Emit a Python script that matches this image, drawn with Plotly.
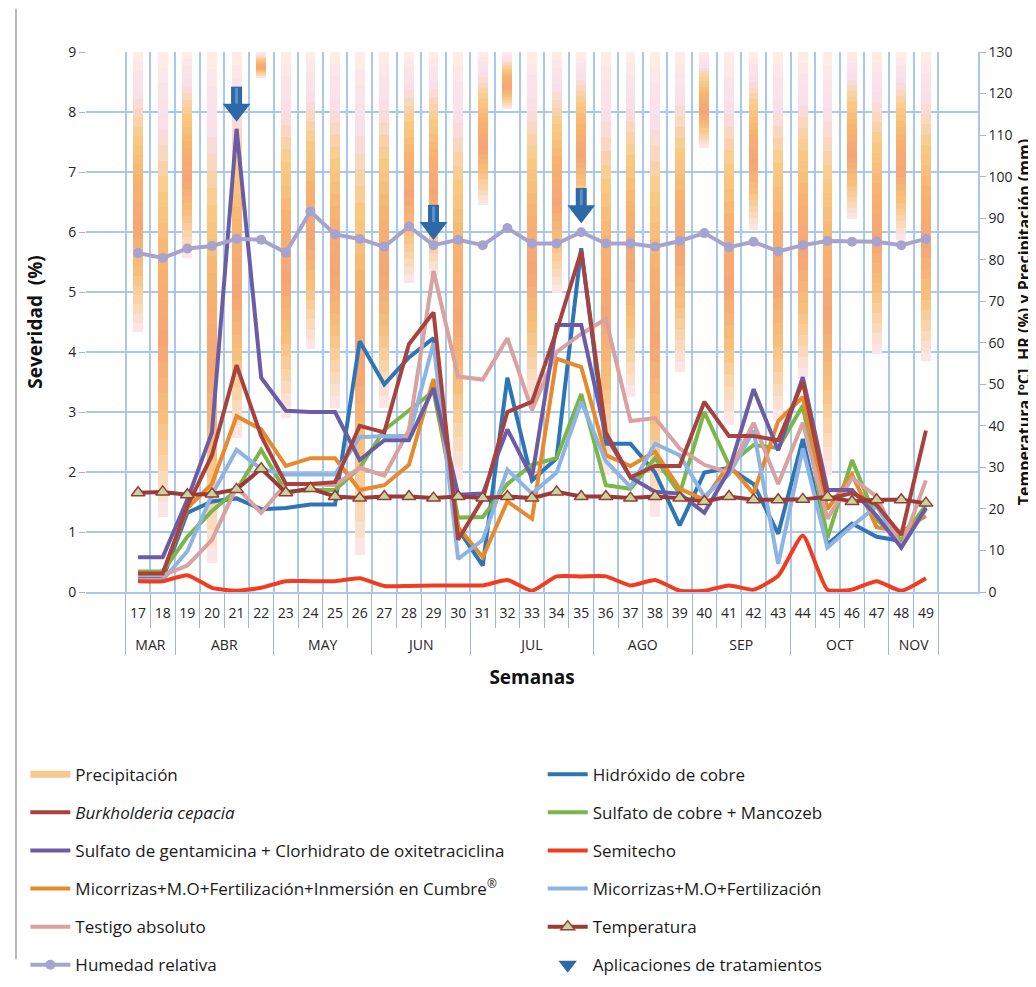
import plotly.graph_objects as go

# ---------------- data ----------------
weeks = ["17", "18", "19", "20", "21", "22", "23", "24", "25", "26", "27",
         "28", "29", "30", "31", "32", "33", "34", "35", "36", "37", "38",
         "39", "40", "41", "42", "43", "44", "45", "46", "47", "48", "49"]
months = ["MAR", "MAR", "ABR", "ABR", "ABR", "ABR", "MAY", "MAY", "MAY", "MAY",
          "JUN", "JUN", "JUN", "JUN", "JUL", "JUL", "JUL", "JUL", "JUL",
          "AGO", "AGO", "AGO", "AGO", "SEP", "SEP", "SEP", "SEP",
          "OCT", "OCT", "OCT", "OCT", "NOV", "NOV"]

precipitacion = [67.5, 112, 49.5, 123, 93, 6.2, 88, 71.5, 85.6, 121, 85.6,
                 55.5, 54, 103, 36.8, 13.7, 84.7, 58, 40, 101.8, 83, 112,
                 77, 23, 89.7, 42.8, 88.8, 78.7, 101.8, 40.2, 72.6, 45.3, 74.5]

hidroxido = [0.23, 0.23, 1.32, 1.51, 1.56, 1.38, 1.40, 1.46, 1.46, 4.18, 3.46,
             3.91, 4.23, 1.05, 0.44, 3.57, 1.86, 2.23, 5.73, 2.47, 2.47, 1.99,
             1.11, 1.99, 2.07, 1.80, 0.97, 2.55, 0.79, 1.14, 0.92, 0.85, 1.40]
burkholderia = [0.31, 0.31, 1.43, 2.28, 3.78, 2.60, 1.80, 1.80, 1.83, 2.77, 2.66,
                4.13, 4.66, 0.87, 1.55, 3.00, 3.17, 4.35, 5.68, 2.66, 1.91, 2.10,
                2.10, 3.17, 2.60, 2.60, 2.53, 3.50, 1.55, 1.65, 1.45, 0.95, 2.69]
sulfato_mancozeb = [0.34, 0.34, 0.92, 1.35, 1.70, 2.37, 1.67, 1.70, 1.70, 2.07, 2.70,
                    3.03, 3.35, 1.24, 1.25, 1.80, 2.12, 2.23, 3.30, 1.78, 1.72, 2.23,
                    1.64, 3.00, 2.12, 2.45, 2.40, 3.11, 0.90, 2.20, 1.20, 0.87, 1.45]
gentamicina = [0.58, 0.58, 1.54, 2.66, 7.72, 3.57, 3.02, 3.00, 3.00, 2.20, 2.53,
               2.53, 3.40, 1.62, 1.64, 2.71, 1.91, 4.45, 4.45, 2.60, 1.91, 1.67,
               1.64, 1.32, 2.02, 3.38, 2.36, 3.58, 1.70, 1.70, 1.27, 0.74, 1.40]
semitecho = [0.18, 0.18, 0.28, 0.07, 0.02, 0.07, 0.18, 0.18, 0.18, 0.23, 0.10,
             0.10, 0.11, 0.11, 0.11, 0.20, 0.02, 0.26, 0.26, 0.26, 0.11, 0.20,
             0.02, 0.02, 0.11, 0.04, 0.27, 0.94, 0.04, 0.04, 0.18, 0.02, 0.23]
cumbre = [0.31, 0.31, 1.40, 1.80, 2.93, 2.71, 2.10, 2.23, 2.23, 1.70, 1.78,
          2.12, 3.55, 1.08, 0.58, 1.51, 1.22, 3.89, 3.75, 2.28, 2.10, 2.34,
          1.72, 1.54, 2.12, 1.64, 2.85, 3.25, 1.38, 1.96, 1.08, 1.00, 1.27]
mo_fert = [0.20, 0.20, 0.68, 1.62, 2.37, 2.05, 1.96, 1.96, 1.96, 2.58, 2.60,
           2.60, 4.15, 0.55, 0.87, 2.04, 1.64, 1.99, 3.17, 2.18, 1.75, 2.47,
           2.28, 1.59, 1.96, 2.69, 0.47, 2.39, 0.74, 1.10, 1.43, 0.74, 1.38]
testigo = [0.28, 0.28, 0.44, 0.87, 1.75, 1.32, 1.80, 1.80, 1.78, 2.07, 1.94,
           2.70, 5.35, 3.59, 3.54, 4.23, 3.03, 4.00, 4.30, 4.55, 2.85, 2.90,
           2.39, 2.12, 1.99, 2.82, 1.80, 2.82, 1.22, 1.90, 1.59, 0.74, 1.86]
temperatura = [23.9, 24.1, 23.4, 23.6, 24.7, 29.7, 23.9, 24.9, 23.0, 22.6, 23.0,
               23.0, 22.6, 23.0, 22.6, 23.0, 22.6, 24.1, 23.0, 23.0, 22.6, 23.0,
               22.6, 21.8, 23.0, 22.2, 22.2, 22.3, 22.9, 21.8, 22.2, 22.2, 21.4]
humedad = [81.6, 80.4, 82.7, 83.3, 85.0, 84.8, 81.7, 91.6, 86.1, 85.0, 83.1,
           88.0, 83.5, 84.8, 83.5, 87.6, 83.9, 83.9, 86.6, 83.9, 83.9, 83.1,
           84.5, 86.4, 83.0, 84.3, 82.0, 83.5, 84.5, 84.3, 84.3, 83.5, 85.0]

aplic_weeks = ["21", "29", "35"]
aplic_months = ["ABR", "JUN", "JUL"]
aplic_sev = [7.86, 5.89, 6.17]   # arrow tip, in severity units

# ---------------- style ----------------
FONT = "Open Sans"
GRID = "#A9C8EB"
AXC = "#9DB8D3"
SEV_MAX, RIGHT_MAX = 9, 130
to_right = RIGHT_MAX / SEV_MAX

# week label plus an empty second line, so the month row sits lower
week_lbl = [w + "<br>\u00a0" for w in weeks]
aplic_lbl = [w + "<br>\u00a0" for w in aplic_weeks]

x_all = [months, week_lbl]
fig = go.Figure()

# gradient for the hanging precipitation bars (fraction from top, colour)
grad_pos = [0.00, 0.07, 0.16, 0.30, 0.46, 0.62, 0.78, 0.90, 1.00]
grad_rgb = [(254, 240, 226), (252, 228, 234), (251, 222, 232), (249, 204, 134),
            (247, 178, 112), (244, 166, 117), (247, 190, 122), (250, 215, 176),
            (252, 232, 238)]
N_SEG = 30


def grad_color(t):
    for k in range(len(grad_pos) - 1):
        if grad_pos[k] <= t <= grad_pos[k + 1]:
            u = (t - grad_pos[k]) / (grad_pos[k + 1] - grad_pos[k])
            c = [round(a + (b - a) * u) for a, b in zip(grad_rgb[k], grad_rgb[k + 1])]
            return "rgb({},{},{})".format(*c)
    return "rgb({},{},{})".format(*grad_rgb[-1])


for i in range(N_SEG):
    frac = 1.0 / N_SEG
    fig.add_trace(go.Bar(
        x=x_all, y=[p * frac for p in precipitacion], yaxis="y",
        marker=dict(color=grad_color((i + 0.5) / N_SEG), line=dict(width=0)),
        width=0.4, showlegend=False, hoverinfo="skip"))

# legend proxy for precipitation
fig.add_trace(go.Scatter(x=[[None], [None]], y=[None], mode="lines", yaxis="y2",
                         name="Precipitación", line=dict(color="#F9C98F", width=7),
                         legend="legend", legendgroup="g1", legendrank=1))

series = [
    ("Hidróxido de cobre", hidroxido, "#2E75B6", "legend2", 1, "linear"),
    ("Sulfato de cobre + Mancozeb", sulfato_mancozeb, "#7AB648", "legend2", 2, "linear"),
    ("Micorrizas+M.O+Fertilización+Inmersión en Cumbre<sup>®</sup>", cumbre, "#E8892C", "legend", 4, "linear"),
    ("Micorrizas+M.O+Fertilización", mo_fert, "#8EB4E3", "legend2", 4, "linear"),
    ("Testigo absoluto", testigo, "#D9A19F", "legend", 5, "linear"),
    ("Sulfato de gentamicina + Clorhidrato de oxitetraciclina", gentamicina, "#6B5CA5", "legend", 3, "linear"),
    ("<i>Burkholderia cepacia</i>", burkholderia, "#A8423D", "legend", 2, "linear"),
    ("Semitecho", semitecho, "#F23C1F", "legend2", 3, "spline"),
]
for name, vals, col, leg, rank, shape in series:
    fig.add_trace(go.Scatter(
        x=x_all, y=vals, yaxis="y2", mode="lines", name=name,
        line=dict(color=col, width=4, shape=shape, smoothing=0.5),
        legend=leg, legendgroup=name, legendrank=rank, hoverinfo="skip"))

fig.add_trace(go.Scatter(
    x=x_all, y=temperatura, yaxis="y3", mode="lines+markers", name="Temperatura",
    line=dict(color="#9A3B38", width=4),
    marker=dict(symbol="triangle-up", size=12, color="#C3D69B",
                line=dict(color="#9A3B38", width=1.5)),
    legend="legend2", legendgroup="temp", legendrank=5, hoverinfo="skip"))
fig.add_trace(go.Scatter(
    x=x_all, y=humedad, yaxis="y3", mode="lines+markers", name="Humedad relativa",
    line=dict(color="#A7A3CF", width=4),
    marker=dict(symbol="circle", size=10, color="#A7A3CF"),
    legend="legend", legendgroup="hr", legendrank=6, hoverinfo="skip"))

# treatment application arrows (stem + head), converted to right-axis units
ax_x = [aplic_months, aplic_lbl]
stem_y = [(v + 0.376) * to_right for v in aplic_sev]
head_y = [(v + 0.176) * to_right for v in aplic_sev]
fig.add_trace(go.Scatter(
    x=ax_x, y=stem_y, yaxis="y3", mode="markers", showlegend=False,
    marker=dict(symbol="line-ns", size=16, line=dict(color="#2C69A6", width=11)),
    legendgroup="arr", hoverinfo="skip"))
fig.add_trace(go.Scatter(
    x=ax_x, y=stem_y, yaxis="y3", mode="markers", showlegend=False,
    marker=dict(symbol="line-ns", size=14, line=dict(color="#5E8FC6", width=3)),
    legendgroup="arr", hoverinfo="skip"))
fig.add_trace(go.Scatter(
    x=ax_x, y=head_y, yaxis="y3", mode="markers", name="Aplicaciones de tratamientos",
    marker=dict(symbol="triangle-down", size=24, color="#2C69A6", line=dict(width=0)),
    legend="legend2", legendgroup="arr", legendrank=6, hoverinfo="skip"))

legend_common = dict(
    xanchor="left", yanchor="top", orientation="v", traceorder="grouped",
    tracegroupgap=13, bgcolor="rgba(0,0,0,0)",
    font=dict(family=FONT, size=17, color="#1a1a1a"), itemwidth=40)

fig.update_layout(
    width=1036, height=987,
    margin=dict(l=78, r=66, t=44, b=381),
    paper_bgcolor="white", plot_bgcolor="white",
    barmode="stack",
    font=dict(family=FONT, size=14, color="#262626"),
    legend=dict(x=-0.068, y=-0.305, **legend_common),
    legend2=dict(x=0.512, y=-0.305, **legend_common),
    xaxis=dict(
        type="multicategory", showgrid=True, gridcolor=GRID, gridwidth=1.5,
        ticks="outside", ticklen=34, tickcolor=AXC, tickwidth=1,
        showdividers=True, dividercolor=AXC, dividerwidth=1,
        tickangle=0, ticklabelstandoff=7,
        showline=True, linecolor=GRID, linewidth=1.5,
        tickfont=dict(family=FONT, size=14, color="#262626"),
        title=dict(text="<b>Semanas</b>", font=dict(family=FONT, size=19, color="#111"),
                   standoff=18),
        automargin=False),
    yaxis=dict(range=[RIGHT_MAX, 0], autorange=False, visible=False, showgrid=False,
               zeroline=False, fixedrange=True),
    yaxis2=dict(overlaying="y", side="left", anchor="x", range=[0, SEV_MAX],
                autorange=False, dtick=1, tick0=0, showgrid=True, gridcolor=GRID,
                gridwidth=1.5, zeroline=False, ticks="outside", ticklen=6,
                tickcolor=AXC, showline=False,
                tickfont=dict(family=FONT, size=14, color="#262626"),
                title=dict(text="<b>Severidad  (%)</b>",
                           font=dict(family=FONT, size=19, color="#111"), standoff=20),
                automargin=False),
    yaxis3=dict(overlaying="y", side="right", anchor="x", range=[0, RIGHT_MAX],
                autorange=False, dtick=10, tick0=0, showgrid=False, zeroline=False,
                ticks="outside", ticklen=6, tickcolor=AXC, showline=True,
                linecolor=GRID, linewidth=1.5,
                tickfont=dict(family=FONT, size=14, color="#262626"),
                title=dict(text="<b>Temperatura [ºC], HR (%) y Precipitación (mm)</b>",
                           font=dict(family=FONT, size=16, color="#111"), standoff=2),
                automargin=False),
    shapes=[dict(type="line", xref="paper", yref="paper",
                 x0=-0.0785, x1=-0.0785, y0=-0.68, y1=1.08,
                 line=dict(color="#A0A0A0", width=1.5))],
)

fig.write_html("out.html")
